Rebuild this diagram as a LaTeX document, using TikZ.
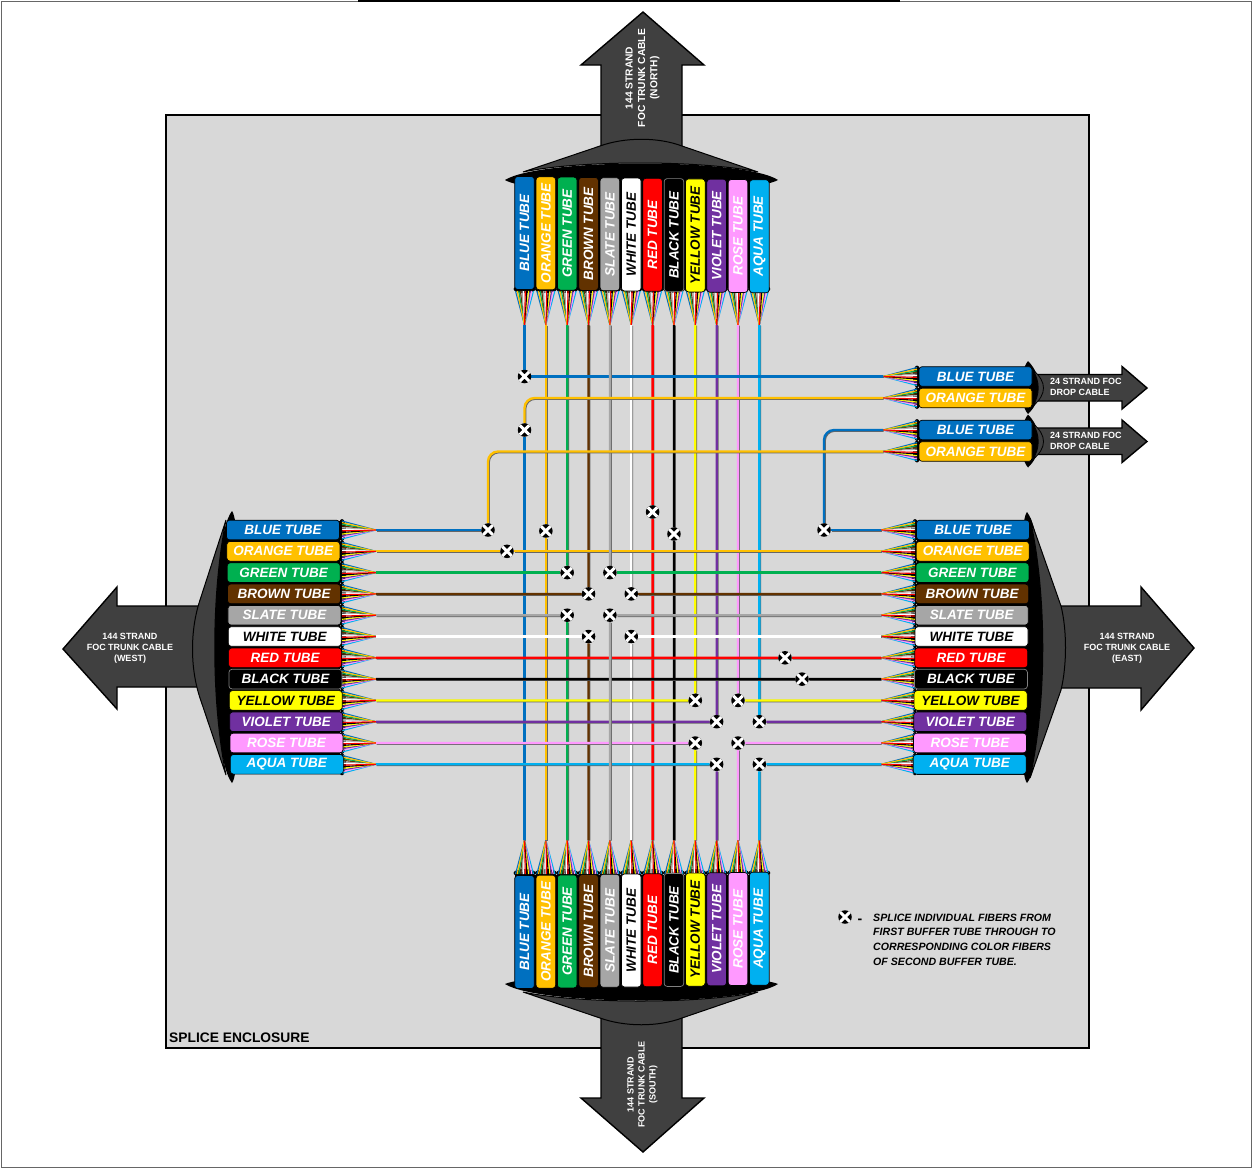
\documentclass[tikz,border=0pt]{standalone}
\usepackage{fontspec}
\setmainfont{Liberation Sans}
\definecolor{tblue}{HTML}{0070C0}
\definecolor{torange}{HTML}{FFC000}
\definecolor{tgreen}{HTML}{00B050}
\definecolor{tbrown}{HTML}{623200}
\definecolor{tslate}{HTML}{A6A6A6}
\definecolor{twhite}{HTML}{FFFFFF}
\definecolor{tred}{HTML}{FF0000}
\definecolor{tblack}{HTML}{000000}
\definecolor{tyellow}{HTML}{FFFF00}
\definecolor{tviolet}{HTML}{7030A0}
\definecolor{trose}{HTML}{FF99FF}
\definecolor{taqua}{HTML}{00B0F0}
\definecolor{cablegray}{HTML}{404040}
\definecolor{boxgray}{HTML}{D8D8D8}
\pgfdeclarelayer{top}
\pgfsetlayers{main,top}
\def\tubelist{1/tblue/BLUE/white/black,2/torange/ORANGE/white/black,3/tgreen/GREEN/white/black,4/tbrown/BROWN/white/black,5/tslate/SLATE/white/black,6/twhite/WHITE/black/black,7/tred/RED/white/black,8/tblack/BLACK/white/gray,9/tyellow/YELLOW/black/black,10/tviolet/VIOLET/white/black,11/trose/ROSE/white/black,12/taqua/AQUA/white/black}
\begin{document}
\begin{tikzpicture}[x=1pt, y=-1pt,
    tube/.style={rectangle, rounded corners=3pt, line width=0.7pt, minimum width=113pt, minimum height=19.6pt, inner sep=0pt, font=\bfseries\itshape\fontsize{13.5}{14}\selectfont},
    splice/.style={circle, fill=black, inner sep=0pt, minimum size=13.5pt, path picture={\draw[white, line width=3pt] (path picture bounding box.north west) -- (path picture bounding box.south east) (path picture bounding box.north east) -- (path picture bounding box.south west);}},
    wire/.style={draw=#1, line width=2.3pt, preaction={draw=black!60, line width=2.3pt, transform canvas={xshift=0.7pt, yshift=-0.7pt}}},
    cable/.style={fill=cablegray, draw=black, line width=1.4pt, line join=miter},
    cabletext/.style={text=white, align=center, font=\bfseries\fontsize{9}{11}\selectfont},
    fan/.pic={\foreach \k/\fcol in {1/tblue,12/taqua,11/trose,10/tviolet,4/tbrown,3/tgreen,9/tyellow,8/tblack,5/tslate,6/twhite,2/torange,7/tred}{\draw[\fcol, line width=1.1pt] (0,{-9+18*(\k-1)/11}) -- (34,0);}}]
  \useasboundingbox (0,0) rectangle (1253,1168);
  \draw[black!60, line width=1pt] (1,1) rectangle (1251,1167);
  \draw[black, line width=1.6pt] (358,0.8) -- (900,0.8);
  \draw[fill=boxgray, line width=2pt] (166,115) rectangle (1089,1048);
  \node[anchor=west, inner sep=0pt, font=\bfseries\fontsize{13.8}{14}\selectfont] (enclosure) at (169,1038) {SPLICE ENCLOSURE};

  \draw[cable] (601,150) -- (601,65) -- (581,65) -- (643,12) -- (704,65) -- (682,65) -- (682,150);
  \draw[cable] (601,1015) -- (601,1098) -- (581,1098) -- (643,1152) -- (704,1098) -- (682,1098) -- (682,1015);
  \draw[cable] (200,606) -- (117,606) -- (117,587) -- (63,649) -- (117,709) -- (117,687) -- (200,687);
  \draw[cable] (1055,606) -- (1141,606) -- (1141,587) -- (1194,648) -- (1141,710) -- (1141,688) -- (1055,688);
  \foreach \dy in {388,441.5}{
    \begin{scope}[yshift=-\dy pt]
      \draw[cable] (1030,-13.5) -- (1122,-13.5) -- (1122,-21.5) -- (1147,0) -- (1122,21) -- (1122,13) -- (1030,13);
      \fill[black] (1028,-27) .. controls (1043,-12) and (1043,12) .. (1028,26) .. controls (1019,16) and (1019,-16) .. cycle;
      \draw[cable, line width=0.8pt] (1033,-18) .. controls (1047,-6) and (1047,6) .. (1033,18) .. controls (1040,6) and (1040,-6) .. cycle;
    \end{scope}
  }
  \node[cabletext, rotate=90, font=\bfseries\fontsize{10.2}{12.3}\selectfont] (north) at (642.5,78) {144 STRAND\\FOC TRUNK CABLE\\(NORTH)};
  \node[cabletext, rotate=90] (south) at (642.5,1084.5) {144 STRAND\\FOC TRUNK CABLE\\(SOUTH)};
  \node[cabletext] (west) at (130,648) {144 STRAND\\FOC TRUNK CABLE\\(WEST)};
  \node[cabletext] (east) at (1127,648) {144 STRAND\\FOC TRUNK CABLE\\(EAST)};
  \node[cabletext, align=left, anchor=west, inner sep=0pt] (drop1) at (1050,387) {24 STRAND FOC\\DROP CABLE};
  \node[cabletext, align=left, anchor=west, inner sep=0pt] (drop2) at (1050,441) {24 STRAND FOC\\DROP CABLE};

  \fill[black] (505,180) .. controls (540,158) and (745,158) .. (778,180) .. controls (750,196) and (530,196) .. cycle;
  \fill[black] (505,984) .. controls (530,972) and (750,972) .. (778,984) .. controls (745,1006) and (540,1006) .. cycle;
  \fill[black] (232,511) .. controls (209,540) and (209,755) .. (232,783) .. controls (244,770) and (244,525) .. cycle;
  \fill[black] (1027,512) .. controls (1050,540) and (1050,755) .. (1027,783) .. controls (1015,770) and (1015,525) .. cycle;
  \draw[cable, line width=1pt] (523,172) -- (600,146) .. controls (625,137) and (658,137) .. (682,146) -- (758,172) .. controls (700,160) and (580,160) .. cycle;
  \draw[cable, line width=1pt] (523,992) -- (600,1018) .. controls (625,1027) and (658,1027) .. (682,1018) -- (758,992) .. controls (700,1004) and (580,1004) .. cycle;
  \draw[cable, line width=1pt] (226,520) -- (200,600) .. controls (190,630) and (190,668) .. (200,698) -- (226,775) .. controls (211,700) and (211,595) .. cycle;
  \draw[cable, line width=1pt] (1030,518) -- (1061,606) .. controls (1067,630) and (1067,665) .. (1061,690) -- (1030,778) .. controls (1047,700) and (1047,595) .. cycle;

  \fill[black] (515,182) rectangle (769,288);
  \fill[black] (515,875) rectangle (769,985);
  \fill[black] (232,521) rectangle (340,774);
  \fill[black] (917,521) rectangle (1025,775);

  \foreach \i/\tname/\tlabel/\tink/\tedge in \tubelist {
    \pgfmathsetmacro\px{524.5+21.35*(\i-1)}
    \pgfmathsetmacro\py{530+21.3*(\i-1)}
    \fill[black] (\px,289) ellipse [x radius=11, y radius=4];
    \fill[black] (\px,873) ellipse [x radius=11, y radius=4];
    \fill[black] (342,\py) ellipse [x radius=4, y radius=11];
    \fill[black] (915,\py) ellipse [x radius=4, y radius=11];
    \pic[rotate=-90, yscale=-1] at (\px,291) {fan};
    \pic[rotate=90] at (\px,874) {fan};
    \pic at (342,\py) {fan};
    \pic[xscale=-1] at (915,\py) {fan};
    \coordinate (nt\i) at (\px,325);
    \coordinate (st\i) at (\px,840);
    \coordinate (wt\i) at (376,\py);
    \coordinate (et\i) at (881,\py);
    \node[tube, rotate=90, fill=\tname, text=\tink, draw=\tedge] (n\i) at (\px,{233+0.3*(\i-1)}) {\tlabel\ TUBE};
    \node[tube, rotate=90, fill=\tname, text=\tink, draw=\tedge] (s\i) at (\px,{932-0.3*(\i-1)}) {\tlabel\ TUBE};
    \node[tube, fill=\tname, text=\tink, draw=\tedge] (w\i) at ({283+0.35*(\i-1)},\py) {\tlabel\ TUBE};
    \node[tube, fill=\tname, text=\tink, draw=\tedge] (e\i) at ({973-0.3*(\i-1)},\py) {\tlabel\ TUBE};
  }
  \fill[black] (919,368) rectangle (1030,406);
  \fill[black] (919,422) rectangle (1030,460);
  \foreach \j/\dyy/\tname/\tlabel in {1/376.5/tblue/BLUE,2/398/torange/ORANGE,3/430/tblue/BLUE,4/451.5/torange/ORANGE}{
    \fill[black] (917,\dyy) ellipse [x radius=4, y radius=11];
    \pic[xscale=-1] at (917,\dyy) {fan};
    \coordinate (dt\j) at (883,\dyy);
    \node[tube, fill=\tname, text=white, draw=black] (d\j) at (975.5,\dyy) {\tlabel\ TUBE};
  }

  \begin{pgfonlayer}{top}
    \foreach \q/\qx/\qy in {1/524.5/376.5,2/524.5/430,3/488/530,4/545.85/531,5/507/551.3,6/824/530,7/567.2/572.6,8/609.9/572.6,9/588.55/593.9,10/631.25/593.9,11/567.2/615.2,12/609.9/615.2,13/588.55/636.5,14/631.25/636.5,15/652.6/512,16/673.95/534,17/785/657.8,18/802/679.1,19/695.3/700.4,20/738/700.4,21/716.65/721.7,22/759.35/721.7,23/695.3/743,24/738/743,25/716.65/764.3,26/759.35/764.3,27/845/917}
      \node[splice] (sp\q) at (\qx,\qy) {};
  \end{pgfonlayer}

  \foreach \a/\b/\wcol in {nt1/sp1/tblue,nt2/sp4/torange,sp4/st2/torange,nt3/sp7/tgreen,nt4/sp9/tbrown,nt6/sp10/twhite,nt7/sp15/tred,sp15/st7/tred,nt8/sp16/tblack,sp16/st8/tblack,nt9/sp19/tyellow,nt10/sp21/tviolet,nt11/sp20/trose,nt12/sp22/taqua,st1/sp2/tblue,st3/sp11/tgreen,st4/sp13/tbrown,st6/sp14/twhite,st9/sp23/tyellow,st10/sp25/tviolet,st11/sp24/trose,st12/sp26/taqua}
    \draw[wire=\wcol] (\a) -- (\b);
  \foreach \a/\b/\wcol in {dt1/sp1/tblue,wt1/sp3/tblue,et1/sp6/tblue,wt2/sp5/torange,sp5/et2/torange,wt3/sp7/tgreen,et3/sp8/tgreen,wt4/sp9/tbrown,et4/sp10/tbrown,wt5/sp11/tslate,et5/sp12/tslate,wt6/sp13/twhite,et6/sp14/twhite,wt7/sp17/tred,sp17/et7/tred,wt8/sp18/tblack,sp18/et8/tblack,wt9/sp19/tyellow,et9/sp20/tyellow,wt10/sp21/tviolet,et10/sp22/tviolet,wt11/sp23/trose,et11/sp24/trose,wt12/sp25/taqua,et12/sp26/taqua}
    \draw[wire=\wcol] (\a) -- (\b);
  \foreach \a/\b in {nt5/sp8,st5/sp12}
    \draw[wire=tslate] (\a) -- (\b);
  \draw[wire=torange, rounded corners=10pt] (dt2) -| (sp2);
  \draw[wire=tblue, rounded corners=10pt] (dt3) -| (sp6);
  \draw[wire=torange, rounded corners=10pt] (dt4) -| (sp3);

  \node[inner sep=0pt, font=\bfseries\fontsize{14}{14}\selectfont] (dash) at (860,921) {-};
  \node[anchor=west, align=left, inner sep=0pt, font=\bfseries\itshape\fontsize{10.6}{14.7}\selectfont] (legend) at (873,939.5) {SPLICE INDIVIDUAL FIBERS FROM\\FIRST BUFFER TUBE THROUGH TO\\CORRESPONDING COLOR FIBERS\\OF SECOND BUFFER TUBE.};
\end{tikzpicture}
\end{document}
